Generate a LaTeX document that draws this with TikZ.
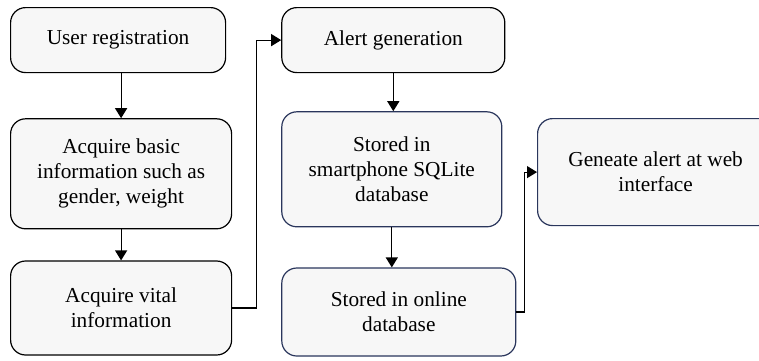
\documentclass[tikz,border=0pt]{standalone}
\usepackage{fontspec}
\setmainfont{Liberation Serif}
\usepackage{xcolor}
\usetikzlibrary{arrows.meta,positioning}

\definecolor{boxfill}{RGB}{247,247,247}
\definecolor{navyline}{RGB}{42,54,92}

\begin{document}
\begin{tikzpicture}[
    x=1pt, y=1pt,
    every node/.style={draw, rounded corners=15pt, fill=boxfill, line width=1.2pt, align=center, font=\fontsize{21.3}{25}\selectfont, inner sep=4pt},
    plain/.style={draw=black},
    stored/.style={draw=navyline},
    flow/.style={-{Triangle[length=10pt,width=12pt]}, line width=1.2pt}
]
\useasboundingbox (0,0) rectangle (759,-360);

% Phone side
\node[plain, anchor=north west, minimum width=215pt, minimum height=65pt] (user) at (10,-7) {User registration};
\node[plain, below=45pt of user.south west, anchor=north west, minimum width=221pt, minimum height=110pt] (basic) {Acquire basic\\information such as\\gender, weight};
\node[plain, below=31pt of basic.south west, anchor=north west, minimum width=221pt, minimum height=94pt] (vital) {Acquire vital\\information};

% Alert and storage
\node[plain, right=55pt of user.north east, anchor=north west, minimum width=223pt, minimum height=65pt] (alert) {Alert generation};
\node[stored, below=38pt of alert.south west, anchor=north west, minimum width=220pt, minimum height=115pt] (sqlite) {Stored in\\smartphone SQLite\\database};
\node[stored, below=40pt of sqlite.south west, anchor=north west, minimum width=234pt, minimum height=88pt] (online) {Stored in online\\database};

% Web side
\node[stored, anchor=north west, minimum width=236pt, minimum height=107pt] (web) at (537,-118) {Geneate alert at web\\interface};

% Connections
\draw[flow] (basic.north |- user.south) -- (basic.north);
\draw[flow] (vital.north |- basic.south) -- (vital.north);
\draw[flow] (vital.east) -- ++(24,0) |- (alert.west);

\draw[flow] (alert.south) -- (alert.south |- sqlite.north);
\draw[flow] (sqlite.south) -- (sqlite.south |- online.north);
\draw[flow] (online.east) -- ++(8,0) |- (web.west);

\end{tikzpicture}
\end{document}
